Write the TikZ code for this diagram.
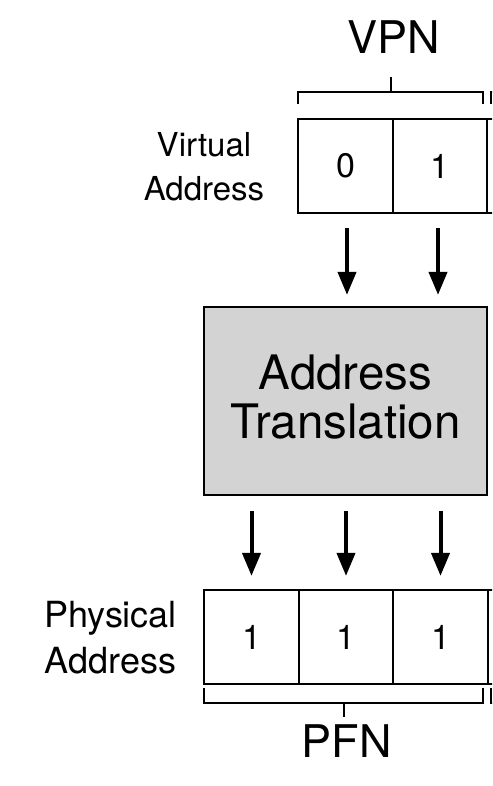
\documentclass[tikz,border=0pt]{standalone}
\usepackage{fontspec}
\setmainfont{TeX Gyre Heros}
\usetikzlibrary{arrows.meta}
\definecolor{boxgray}{HTML}{D3D3D3}
\tikzset{
  cell/.style={draw=black, line width=2.2pt, minimum width=94.5pt, minimum height=94pt, inner sep=0pt,
    font=\fontsize{34}{40}\selectfont},
  bigbox/.style={draw=black, fill=boxgray, line width=2.2pt, minimum width=283pt, minimum height=188pt,
    inner sep=0pt, align=center, font=\fontsize{47.5}{49}\selectfont, text depth=8pt},
  lbl/.style={align=center, inner sep=0pt},
  ttl/.style={anchor=base, inner sep=0pt, font=\fontsize{45}{48}\selectfont},
  arr/.style={line width=4pt, -{Triangle[width=18pt,length=23pt]}},
  brk/.style={line width=2pt}
}
\begin{document}
\begin{tikzpicture}[x=1pt,y=-1pt]
\useasboundingbox (0,0) rectangle (492,786);
\clip (0,0) rectangle (492,786);
% title VPN
\node[ttl] (vpn) at (393.5,54) {VPN};
\draw[brk] (298,104) -- (298,92) -- (483,92) -- (483,104);
\draw[brk] (391,92) -- (391,77);
\draw[brk] (491,104) -- (491,92) -- (520,92);
% virtual address
\node[cell] (v0) at (345.5,166) {0};
\node[cell] (v1) at (440,166) {1};
\node[cell] (v2) at (534.5,166) {};
\node[lbl, font=\fontsize{33}{44}\selectfont] (vlabel) at (204,167) {Virtual\\Address};
% translation box
\node[bigbox] (at) at (345.5,401) {Address\\Translation};
% arrows in
\draw[arr] ([xshift=1.5pt,yshift=-14pt]v0.south) -- ([xshift=1.5pt,yshift=11pt]v0.south |- at.north);
\draw[arr] ([xshift=-2pt,yshift=-14pt]v1.south) -- ([xshift=-2pt,yshift=11pt]v1.south |- at.north);
% physical address
\node[cell] (p0) at (251.5,637) {1};
\node[cell] (p1) at (346,637) {1};
\node[cell] (p2) at (440.5,637) {1};
\node[cell] (p3) at (535,637) {};
\node[lbl, font=\fontsize{36}{46}\selectfont] (plabel) at (110.5,638) {Physical\\Address};
% arrows out
\draw[arr] ([yshift=-15pt]p0.north |- at.south) -- ([yshift=13pt]p0.north);
\draw[arr] ([yshift=-15pt]p1.north |- at.south) -- ([yshift=13pt]p1.north);
\draw[arr] ([yshift=-15pt]p2.north |- at.south) -- ([yshift=13pt]p2.north);
% PFN bracket
\draw[brk] (204,688) -- (204,703) -- (483,703) -- (483,688);
\draw[brk] (344,703) -- (344,717);
\draw[brk] (491,688) -- (491,703) -- (520,703);
\node[ttl] (pfn) at (346.5,757) {PFN};
\end{tikzpicture}
\end{document}
